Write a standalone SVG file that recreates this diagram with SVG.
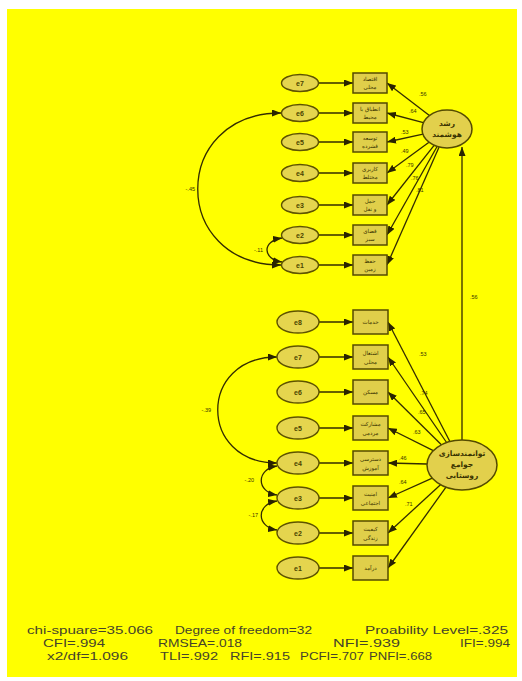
<svg xmlns="http://www.w3.org/2000/svg" width="522" height="681" viewBox="0 0 522 681">
<defs>
<marker id="ah" markerUnits="userSpaceOnUse" markerWidth="9" markerHeight="7" refX="9" refY="3.5" orient="auto-start-reverse">
<path d="M0,0 L9,3.5 L0,7 z" fill="#2a2400"/>
</marker>
</defs>
<style>
.lat{fill:#e2d04c;stroke:#554b00;stroke-width:1.5}
.err{fill:#e5d54e;stroke:#5e5300;stroke-width:1.4}
.obs{fill:#e0cf4a;stroke:#554b00;stroke-width:1.5}
.ln{fill:none;stroke:#332c00;stroke-width:1.3;marker-end:url(#ah)}
.cv{fill:none;stroke:#332c00;stroke-width:1.3;marker-start:url(#ah);marker-end:url(#ah)}
.et{font-family:"Liberation Sans",Arial,sans-serif;font-size:7px;fill:#4a4300;text-anchor:middle;font-weight:bold}
.fa{font-family:"DejaVu Sans","Noto Sans",sans-serif;font-size:5.5px;fill:#3a3300;text-anchor:middle}
.fl{font-family:"DejaVu Sans","Noto Sans",sans-serif;font-size:7.5px;fill:#3a3300;text-anchor:middle;font-weight:bold}
.lb{font-family:"Liberation Sans",Arial,sans-serif;font-size:5.5px;fill:#3a3300}
.fit{font-family:"Liberation Sans",Arial,sans-serif;font-size:11px;fill:#45432a}
</style>
<rect x="0" y="0" width="522" height="681" fill="#ffffff"/>
<rect x="7" y="9" width="510" height="668" fill="#ffff00"/>

<g id="connectors">
<line class="ln" x1="318.5" y1="83" x2="353" y2="83"/>
<line class="ln" x1="318.5" y1="113" x2="353" y2="113"/>
<line class="ln" x1="318.5" y1="142" x2="353" y2="142"/>
<line class="ln" x1="318.5" y1="173" x2="353" y2="173"/>
<line class="ln" x1="318.5" y1="205" x2="353" y2="205"/>
<line class="ln" x1="318.5" y1="235" x2="353" y2="235"/>
<line class="ln" x1="318.5" y1="265" x2="353" y2="265"/>
<line class="ln" x1="429.4" y1="115.5" x2="387" y2="83"/>
<line class="ln" x1="423.4" y1="122.7" x2="387" y2="113"/>
<line class="ln" x1="423" y1="134.2" x2="387" y2="142"/>
<line class="ln" x1="429" y1="142.2" x2="387" y2="173"/>
<line class="ln" x1="434.1" y1="145.3" x2="387" y2="205"/>
<line class="ln" x1="437.1" y1="146.5" x2="387" y2="235"/>
<line class="ln" x1="439.1" y1="147" x2="387" y2="265"/>
<path class="cv" d="M281,113 C170,113 170,265 281,265"/>
<path class="cv" d="M282,238 C262,241 262,259 282,262"/>
<line class="ln" x1="319" y1="322" x2="353" y2="322"/>
<line class="ln" x1="319" y1="357" x2="353" y2="357"/>
<line class="ln" x1="319" y1="392" x2="353" y2="392"/>
<line class="ln" x1="319" y1="428" x2="353" y2="428"/>
<line class="ln" x1="319" y1="463" x2="353" y2="463"/>
<line class="ln" x1="319" y1="498" x2="353" y2="498"/>
<line class="ln" x1="319" y1="533" x2="353" y2="533"/>
<line class="ln" x1="319" y1="568" x2="353" y2="568"/>
<line class="ln" x1="449.9" y1="441.5" x2="388" y2="322"/>
<line class="ln" x1="446.6" y1="442.5" x2="388" y2="357"/>
<line class="ln" x1="441.4" y1="444.7" x2="388" y2="392"/>
<line class="ln" x1="433.3" y1="450.6" x2="388" y2="428"/>
<line class="ln" x1="427" y1="464" x2="388" y2="463"/>
<line class="ln" x1="432.3" y1="478.2" x2="388" y2="498"/>
<line class="ln" x1="440.5" y1="484.7" x2="388" y2="533"/>
<line class="ln" x1="446" y1="487.2" x2="388" y2="568"/>
<line class="ln" x1="462" y1="440" x2="462" y2="147"/>
<path class="cv" d="M277,357 C198,357 198,463 277,463"/>
<path class="cv" d="M277,466 C256,469 256,492 277,495"/>
<path class="cv" d="M277,501 C256,504 256,527 277,530"/>
<text class="lb" x="419" y="96">.56</text>
<text class="lb" x="409" y="113">.64</text>
<text class="lb" x="401" y="134">.53</text>
<text class="lb" x="401" y="153">.49</text>
<text class="lb" x="406" y="167">.79</text>
<text class="lb" x="411" y="180">.76</text>
<text class="lb" x="416" y="192">.81</text>
<text class="lb" x="195" y="191" text-anchor="end">-.45</text>
<text class="lb" x="263" y="252" text-anchor="end">-.11</text>
<text class="lb" x="470" y="299">.56</text>
<text class="lb" x="419" y="356">.53</text>
<text class="lb" x="420" y="395">.74</text>
<text class="lb" x="418" y="414">.65</text>
<text class="lb" x="413" y="434">.63</text>
<text class="lb" x="399" y="460">.46</text>
<text class="lb" x="399" y="484">.64</text>
<text class="lb" x="405" y="506">.71</text>
<text class="lb" x="211" y="412" text-anchor="end">-.39</text>
<text class="lb" x="254" y="482" text-anchor="end">-.20</text>
<text class="lb" x="258" y="517" text-anchor="end">-.17</text>
</g>

<g id="latent-smart-growth">
<ellipse class="lat" cx="447" cy="129" rx="25" ry="19"/>
<text class="fl" x="447" y="126">رشد</text>
<text class="fl" x="447" y="137">هوشمند</text>
</g>
<g id="latent-rural">
<ellipse class="lat" cx="462" cy="465" rx="35" ry="25"/>
<text class="fl" x="462" y="456">توانمندسازی</text>
<text class="fl" x="462" y="467">جوامع</text>
<text class="fl" x="462" y="478">روستایی</text>
</g>

<g id="top-e7"><ellipse class="err" cx="300" cy="83" rx="18.5" ry="8.5"/><text class="et" x="300" y="85.5">e7</text></g>
<g id="top-e6"><ellipse class="err" cx="300" cy="113" rx="18.5" ry="8.5"/><text class="et" x="300" y="115.5">e6</text></g>
<g id="top-e5"><ellipse class="err" cx="300" cy="142" rx="18.5" ry="8.5"/><text class="et" x="300" y="144.5">e5</text></g>
<g id="top-e4"><ellipse class="err" cx="300" cy="173" rx="18.5" ry="8.5"/><text class="et" x="300" y="175.5">e4</text></g>
<g id="top-e3"><ellipse class="err" cx="300" cy="205" rx="18.5" ry="8.5"/><text class="et" x="300" y="207.5">e3</text></g>
<g id="top-e2"><ellipse class="err" cx="300" cy="235" rx="18.5" ry="8.5"/><text class="et" x="300" y="237.5">e2</text></g>
<g id="top-e1"><ellipse class="err" cx="300" cy="265" rx="18.5" ry="8.5"/><text class="et" x="300" y="267.5">e1</text></g>

<g id="top-v7"><rect class="obs" x="353" y="73" width="34" height="20"/><text class="fa" x="370" y="81">اقتصاد</text><text class="fa" x="370" y="89">محلی</text></g>
<g id="top-v6"><rect class="obs" x="353" y="103" width="34" height="20"/><text class="fa" x="370" y="111">انطباق با</text><text class="fa" x="370" y="119">محیط</text></g>
<g id="top-v5"><rect class="obs" x="353" y="132" width="34" height="20"/><text class="fa" x="370" y="140">توسعه</text><text class="fa" x="370" y="148">فشرده</text></g>
<g id="top-v4"><rect class="obs" x="353" y="163" width="34" height="20"/><text class="fa" x="370" y="171">کاربری</text><text class="fa" x="370" y="179">مختلط</text></g>
<g id="top-v3"><rect class="obs" x="353" y="195" width="34" height="20"/><text class="fa" x="370" y="203">حمل</text><text class="fa" x="370" y="211">و نقل</text></g>
<g id="top-v2"><rect class="obs" x="353" y="225" width="34" height="20"/><text class="fa" x="370" y="233">فضای</text><text class="fa" x="370" y="241">سبز</text></g>
<g id="top-v1"><rect class="obs" x="353" y="255" width="34" height="20"/><text class="fa" x="370" y="263">حفظ</text><text class="fa" x="370" y="271">زمین</text></g>

<g id="bot-e8"><ellipse class="err" cx="298" cy="322" rx="21" ry="11"/><text class="et" x="298" y="324.5">e8</text></g>
<g id="bot-e7"><ellipse class="err" cx="298" cy="357" rx="21" ry="11"/><text class="et" x="298" y="359.5">e7</text></g>
<g id="bot-e6"><ellipse class="err" cx="298" cy="392" rx="21" ry="11"/><text class="et" x="298" y="394.5">e6</text></g>
<g id="bot-e5"><ellipse class="err" cx="298" cy="428" rx="21" ry="11"/><text class="et" x="298" y="430.5">e5</text></g>
<g id="bot-e4"><ellipse class="err" cx="298" cy="463" rx="21" ry="11"/><text class="et" x="298" y="465.5">e4</text></g>
<g id="bot-e3"><ellipse class="err" cx="298" cy="498" rx="21" ry="11"/><text class="et" x="298" y="500.5">e3</text></g>
<g id="bot-e2"><ellipse class="err" cx="298" cy="533" rx="21" ry="11"/><text class="et" x="298" y="535.5">e2</text></g>
<g id="bot-e1"><ellipse class="err" cx="298" cy="568" rx="21" ry="11"/><text class="et" x="298" y="570.5">e1</text></g>

<g id="bot-v8"><rect class="obs" x="353" y="310" width="35" height="24"/><text class="fa" x="370.5" y="324">خدمات</text></g>
<g id="bot-v7"><rect class="obs" x="353" y="345" width="35" height="24"/><text class="fa" x="370.5" y="355">اشتغال</text><text class="fa" x="370.5" y="364">محلی</text></g>
<g id="bot-v6"><rect class="obs" x="353" y="380" width="35" height="24"/><text class="fa" x="370.5" y="394">مسکن</text></g>
<g id="bot-v5"><rect class="obs" x="353" y="416" width="35" height="24"/><text class="fa" x="370.5" y="426">مشارکت</text><text class="fa" x="370.5" y="435">مردمی</text></g>
<g id="bot-v4"><rect class="obs" x="353" y="451" width="35" height="24"/><text class="fa" x="370.5" y="461">دسترسی</text><text class="fa" x="370.5" y="470">آموزش</text></g>
<g id="bot-v3"><rect class="obs" x="353" y="486" width="35" height="24"/><text class="fa" x="370.5" y="496">امنیت</text><text class="fa" x="370.5" y="505">اجتماعی</text></g>
<g id="bot-v2"><rect class="obs" x="353" y="521" width="35" height="24"/><text class="fa" x="370.5" y="531">کیفیت</text><text class="fa" x="370.5" y="540">زندگی</text></g>
<g id="bot-v1"><rect class="obs" x="353" y="556" width="35" height="24"/><text class="fa" x="370.5" y="570">درآمد</text></g>

<g id="fit-indices">
<text class="fit" x="27" y="634" textLength="126" lengthAdjust="spacingAndGlyphs">chi-spuare=35.066</text>
<text class="fit" x="175" y="634" textLength="137" lengthAdjust="spacingAndGlyphs">Degree of freedom=32</text>
<text class="fit" x="365" y="634" textLength="143" lengthAdjust="spacingAndGlyphs">Proability Level=.325</text>
<text class="fit" x="43" y="647" textLength="62" lengthAdjust="spacingAndGlyphs">CFI=.994</text>
<text class="fit" x="158" y="647" textLength="84" lengthAdjust="spacingAndGlyphs">RMSEA=.018</text>
<text class="fit" x="333" y="647" textLength="67" lengthAdjust="spacingAndGlyphs">NFI=.939</text>
<text class="fit" x="460" y="647" textLength="50" lengthAdjust="spacingAndGlyphs">IFI=.994</text>
<text class="fit" x="47" y="660" textLength="81" lengthAdjust="spacingAndGlyphs">x2/df=1.096</text>
<text class="fit" x="160" y="660" textLength="58" lengthAdjust="spacingAndGlyphs">TLI=.992</text>
<text class="fit" x="230" y="660" textLength="60" lengthAdjust="spacingAndGlyphs">RFI=.915</text>
<text class="fit" x="300" y="660" textLength="64" lengthAdjust="spacingAndGlyphs">PCFI=.707</text>
<text class="fit" x="369" y="660" textLength="63" lengthAdjust="spacingAndGlyphs">PNFI=.668</text>
</g>
</svg>
